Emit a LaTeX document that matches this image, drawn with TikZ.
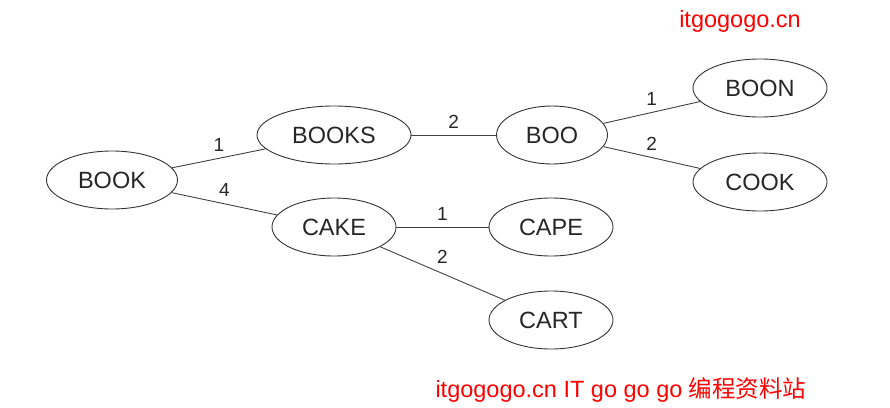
\documentclass[tikz,border=0pt]{standalone}
\usepackage{fontspec}
\setmainfont{Liberation Sans}
\newfontfamily\cjk{Noto Sans CJK SC}
\usepackage{xcolor}
\usetikzlibrary{shapes, positioning}

\begin{document}
\begin{tikzpicture}[x=1pt, y=-1pt, on grid,
			word/.style={draw=black!80, line width=0.9pt, ellipse, inner sep=0pt, minimum height=58pt, minimum width=124pt, text=black!85, font=\fontsize{23.5}{28}\selectfont},
			weight/.style={above=3pt, text=black!85, font=\fontsize{19}{22}\selectfont},
			link/.style={draw=black!75, line width=0.9pt},
			stamp/.style={text=red, font=\fontsize{23.5}{28}\selectfont, anchor=base}
			]
			\useasboundingbox (0,0) rectangle (890,407);
			\node [word, minimum width=131pt](book) at (112,180) {BOOK};
			\node [word, minimum width=154pt](books) at (334,135) {BOOKS};
			\node [word](cake) [below=92pt of books] {CAKE};
			\node [word, minimum width=111pt](boo) [right=218pt of books] {BOO};
			\node [word, minimum width=134pt](boon) [above right=47pt and 208pt of boo] {BOON};
			\node [word, minimum width=134pt](cook) [below=94pt of boon] {COOK};
			\node [word](cape) [right=217pt of cake] {CAPE};
			\node [word](cart) [below=93pt of cape] {CART};

			\draw[link] (book) -- (books) node[midway, weight] {1};
			\draw[link] (book) -- (cake) node[midway, weight] {4};
			\draw[link] (books) -- (boo) node[midway, weight] {2};
			\draw[link] (boo) -- (boon) node[midway, weight] {1};
			\draw[link] (boo) -- (cook) node[midway, weight] {2};
			\draw[link] (cake) -- (cape) node[midway, weight] {1};
			\draw[link] (cake) -- (cart) node[midway, weight, above=6pt] {2};

			\node [stamp](site) at (740,27) {itgogogo.cn};
			\node [stamp](banner) at (621,397) {itgogogo.cn IT go go go {\cjk 编程资料站}};
		\end{tikzpicture}
\end{document}
